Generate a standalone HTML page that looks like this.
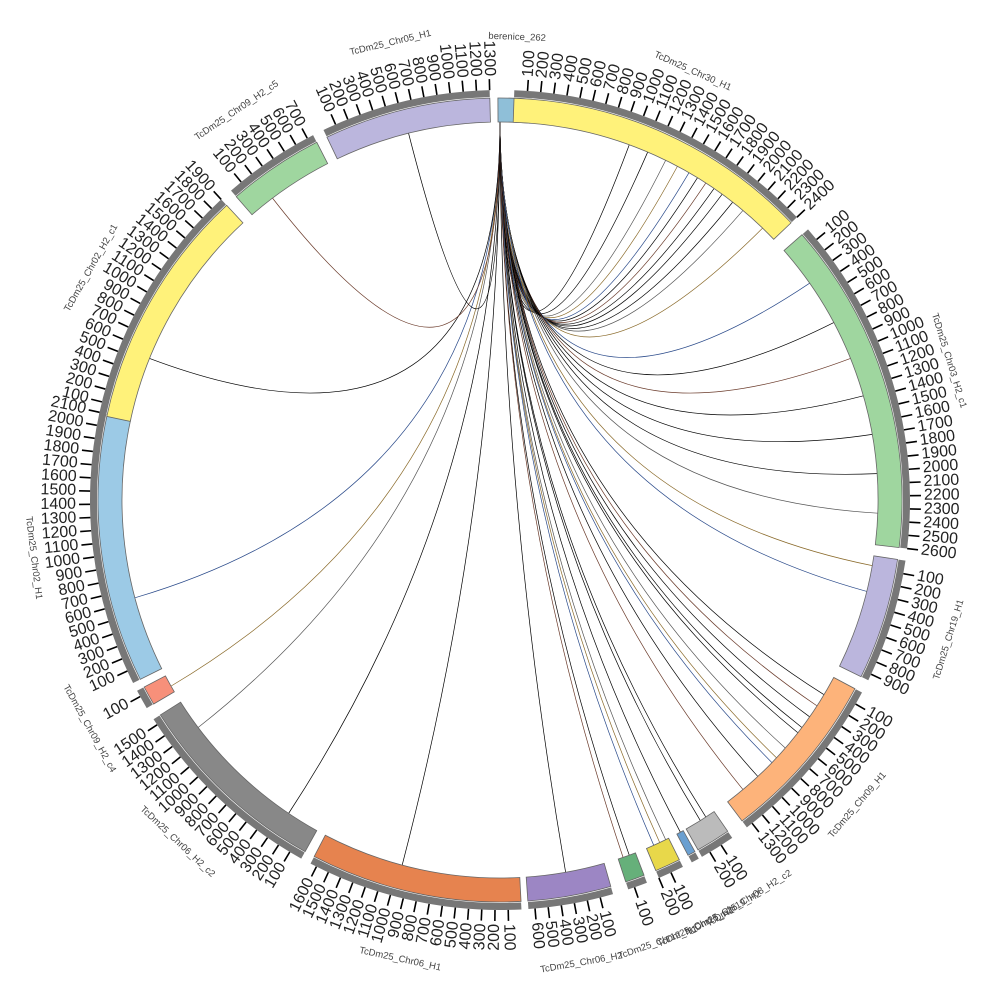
<!DOCTYPE html>
<html><head><meta charset="utf-8">
<style>
html,body{margin:0;padding:0;background:#fff;}
svg{display:block;font-family:"Liberation Sans",sans-serif;}
</style></head>
<body>
<svg id="s" width="1000" height="1000" viewBox="0 0 1000 1000" xmlns="http://www.w3.org/2000/svg">
<g id="links"></g><g id="segs"></g><g id="ticks"></g><g id="names"></g>
</svg>
<script>
var NS="http://www.w3.org/2000/svg",C=500,R0=378,R1=402,S=1.85;
function pt(r,a){a=a*Math.PI/180;return [C+r*Math.sin(a),C-r*Math.cos(a)];}
function el(t,at,p,txt){var e=document.createElementNS(NS,t);for(var k in at)e.setAttribute(k,at[k]);if(txt!==undefined)e.textContent=txt;document.getElementById(p).appendChild(e);return e;}
function arc(r0,r1,a0,a1){var p=pt(r1,a0),q=pt(r1,a1),u=pt(r0,a1),v=pt(r0,a0),lg=(a1-a0)>180?1:0;
return "M"+p+" A"+r1+","+r1+" 0 "+lg+" 1 "+q+" L"+u+" A"+r0+","+r0+" 0 "+lg+" 0 "+v+"Z";}
var segs=[
["berenice_262",-0.3,262,"#8fbfd8"],
["TcDm25_Chr30_H1",2,2400,"#fff27a"],
["TcDm25_Chr03_H2_c1",48.7,2600,"#9fd69f"],
["TcDm25_Chr19_H1",98.5,950,"#bbb6dd"],
["TcDm25_Chr09_H1",118,1350,"#fdb37a"],
["TcDm25_Chr08_H2_c2",145.5,270,"#bbbbbb"],
["TcDm25_Chr19_H2",151,60,"#6a9fd0"],
["TcDm25_Chr15_H1",153.5,200,"#e8d84a"],
["TcDm25_Chr12_H1",159,150,"#66b07a"],
["TcDm25_Chr06_H2",164,650,"#9c86c4"],
["TcDm25_Chr06_H1",177,1650,"#e6834f"],
["TcDm25_Chr06_H2_c2",209,1550,"#888888"],
["TcDm25_Chr09_H2_c4",239.5,150,"#f7907a"],
["TcDm25_Chr02_H1",243.5,2100,"#9ccae6"],
["TcDm25_Chr02_H2_c1",282,1900,"#fff27a"],
["TcDm25_Chr09_H2_c5",319,750,"#9fd69f"],
["TcDm25_Chr05_H1",334.5,1300,"#bbb6dd"]
];
segs.forEach(function(s){
 var a0=s[1],a1=s[1]+s[2]/100*S;
 if(s[0]!=="berenice_262") el("path",{d:arc(R1+1,R1+8,a0,a1),fill:"#777"},"segs");
 el("path",{d:arc(R0,R1,a0,a1),fill:s[3],stroke:"#666","stroke-width":0.8},"segs");
 if(s[0]!=="berenice_262"){
 for(var k=1;k*100<=s[2];k++){
  var a=a0+k*S,p=pt(R1+8,a),q=pt(R1+19,a);
  el("line",{x1:p[0],y1:p[1],x2:q[0],y2:q[1],stroke:"#000","stroke-width":1.6},"ticks");
  var t=pt(R1+22,a),rot,anc;
  if(a%360<180){rot=a-90;anc="start";}else{rot=a+90;anc="end";}
  el("text",{x:0,y:0,transform:"translate("+t[0]+","+t[1]+") rotate("+rot+")","text-anchor":anc,"dominant-baseline":"middle","font-size":16,fill:"#222"},"ticks",String(k*100));
 }}
 var m=(a0+a1)/2,rr=s[0]==="berenice_262"?463:470,n=pt(rr,m),r2=(m%360>90&&m%360<270)?m+180:m;
 el("text",{x:0,y:0,transform:"translate("+n[0]+","+n[1]+") rotate("+r2+")","text-anchor":"middle","dominant-baseline":"middle","font-size":9.5,fill:"#444"},"names",s[0]);
});
var targets=[20,23,26,28,30,31.5,33,34.5,36,38,40,44,55,62,68,74,80,86,92,100,104,121,123,125,127,128,131,133,134,137,140,147,148,151.5,154,155,156,160,161,170,195,214,233,240.5,255,292,323,346];
var cols=["#000","#000","#555","#8a6a2a","#2a4a8a","#000","#6a3a2a","#000"];
var s0=pt(R0,0);
targets.forEach(function(a,i){
 var e=pt(R0,a);
 el("path",{d:"M"+s0+" Q"+C+","+(C-10)+" "+e,fill:"none",stroke:cols[i%cols.length],"stroke-width":0.7},"links");
});
</script>
</body></html>
